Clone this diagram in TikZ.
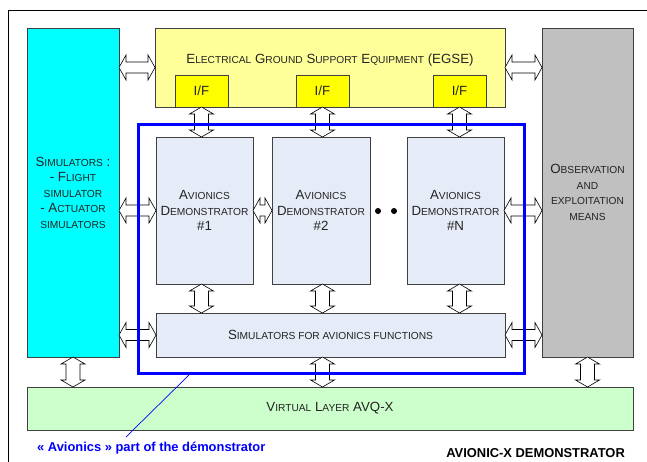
\documentclass[tikz,border=0pt]{standalone}
\usepackage{fontspec}
\setmainfont{Liberation Sans}
\usetikzlibrary{calc}
\definecolor{txt}{RGB}{35,35,35}
\definecolor{bord}{RGB}{64,64,64}
\definecolor{cyanf}{RGB}{0,255,255}
\definecolor{egsef}{RGB}{255,255,153}
\definecolor{iff}{RGB}{255,255,0}
\definecolor{demof}{RGB}{230,236,247}
\definecolor{grayf}{RGB}{192,192,192}
\definecolor{virtf}{RGB}{204,255,204}
\definecolor{avblue}{RGB}{0,0,255}
\newcommand\Sc[1]{{\fontsize{10.2}{15.5}\selectfont #1}}
\newcommand\harr[2]{\draw[arr] let \p1=#1, \p2=#2 in (\x1,\y1) -- (\x1+7pt,\y1+12.5pt) -- (\x1+7pt,\y1+5.5pt) -- (\x2-7pt,\y1+5.5pt) -- (\x2-7pt,\y1+12.5pt) -- (\x2,\y1) -- (\x2-7pt,\y1-12.5pt) -- (\x2-7pt,\y1-5.5pt) -- (\x1+7pt,\y1-5.5pt) -- (\x1+7pt,\y1-12.5pt) -- cycle;}
\newcommand\varr[2]{\draw[arr] let \p1=#1, \p2=#2 in (\x1,\y1) -- (\x1+12pt,\y1-7pt) -- (\x1+7pt,\y1-7pt) -- (\x1+7pt,\y2+7pt) -- (\x1+12pt,\y2+7pt) -- (\x1,\y2) -- (\x1-12pt,\y2+7pt) -- (\x1-7pt,\y2+7pt) -- (\x1-7pt,\y1-7pt) -- (\x1-12pt,\y1-7pt) -- cycle;}
\tikzset{
  box/.style={draw=bord, line width=0.8pt, anchor=north west, inner sep=0pt, outer sep=0pt,
    text=txt, align=center, font=\fontsize{13.3}{15.5}\selectfont},
  arr/.style={draw=black, fill=white, line width=0.6pt, line join=miter},
  dot/.style={circle, fill=black, inner sep=0pt, minimum size=6pt}
}
\begin{document}
\begin{tikzpicture}[x=1pt,y=-1pt]
\useasboundingbox (0,0) rectangle (647,461);
\fill[white] (0,0) rectangle (647,461);
\draw[black, line width=0.9pt] (8,10) rectangle (670,480);
% boxes
\node[box, fill=cyanf, minimum width=92pt, minimum height=329pt] (cyan) at (27,28) {S\Sc{IMULATORS} :\\- F\Sc{LIGHT}\\\Sc{SIMULATOR}\\- A\Sc{CTUATOR}\\\Sc{SIMULATORS}};
\node[box, fill=egsef, minimum width=350pt, minimum height=79pt] (egse) at (155,28) {};
\node[text=txt, font=\fontsize{13.3}{15.5}\selectfont, inner sep=0pt] (egselbl) at (330,60) {E\Sc{LECTRICAL} G\Sc{ROUND} S\Sc{UPPORT} E\Sc{QUIPMENT} (EGSE)};
\node[box, fill=iff, minimum width=53pt, minimum height=32pt] (if1) at (175,75) {I/F};
\node[box, fill=iff, minimum width=53pt, minimum height=32pt] (if2) at (296,75) {I/F};
\node[box, fill=iff, minimum width=53pt, minimum height=32pt] (if3) at (433,75) {I/F};
\node[box, fill=grayf, minimum width=91pt, minimum height=329pt] (gray) at (542,28) {O\Sc{BSERVATION}\\\Sc{AND}\\\Sc{EXPLOITATION}\\\Sc{MEANS}};
\node[box, fill=demof, minimum width=97pt, minimum height=147pt] (demo1) at (156,137) {A\Sc{VIONICS}\\D\Sc{EMONSTRATOR}\\\#1};
\node[box, fill=demof, minimum width=98pt, minimum height=147pt] (demo2) at (272,137) {A\Sc{VIONICS}\\D\Sc{EMONSTRATOR}\\\#2};
\node[box, fill=demof, minimum width=97pt, minimum height=147pt] (demoN) at (407,137) {A\Sc{VIONICS}\\D\Sc{EMONSTRATOR}\\\#N};
\node[box, fill=demof, minimum width=349pt, minimum height=44pt] (sims) at (156,313) {S\Sc{IMULATORS FOR AVIONICS FUNCTIONS}};
\node[box, fill=virtf, minimum width=606pt, minimum height=43pt] (virt) at (27,387) {V\Sc{IRTUAL} L\Sc{AYER} AVQ-X};
\node[dot] (dot1) at (378,211) {};
\node[dot] (dot2) at (394,211) {};
% arrows
\harr{(cyan.east |- egse.west)}{(egse.west)}
\harr{(egse.east)}{(gray.west |- egse.east)}
\harr{(cyan.east |- demo1.west)}{(demo1.west)}
\harr{(demo1.east)}{(demo2.west)}
\harr{(demoN.east)}{(gray.west |- demoN.east)}
\harr{(cyan.east |- sims.west)}{(sims.west)}
\harr{(sims.east)}{(gray.west |- sims.east)}
\varr{(if1.south)}{(if1.south |- demo1.north)}
\varr{(if2.south)}{(if2.south |- demo2.north)}
\varr{(if3.south)}{(if3.south |- demoN.north)}
\varr{(if1.south |- demo1.south)}{(if1.south |- sims.north)}
\varr{(if2.south |- demo2.south)}{(if2.south |- sims.north)}
\varr{(if3.south |- demoN.south)}{(if3.south |- sims.north)}
\varr{(if2.south |- sims.south)}{(if2.south |- virt.north)}
\varr{(cyan.south)}{(cyan.south |- virt.north)}
\varr{(gray.south)}{(gray.south |- virt.north)}
% avionics part
\node[draw=avblue, line width=3pt, anchor=north west, inner sep=0pt, minimum width=386pt, minimum height=249pt] (avbox) at (137,123) {};
\coordinate (lnA) at (192,372);
\coordinate (lnB) at (126,437);
\draw[avblue, line width=0.7pt] (lnA) -- (lnB);
\node[anchor=west, text=avblue, font=\bfseries\fontsize{12.9}{14}\selectfont, inner sep=0pt] (avlbl) at (37,448) {« Avionics » part of the démonstrator};
\node[anchor=east, text=black, font=\bfseries\fontsize{12.9}{14}\selectfont, inner sep=0pt] (title) at (625,453) {AVIONIC-X DEMONSTRATOR};
\end{tikzpicture}
\end{document}
